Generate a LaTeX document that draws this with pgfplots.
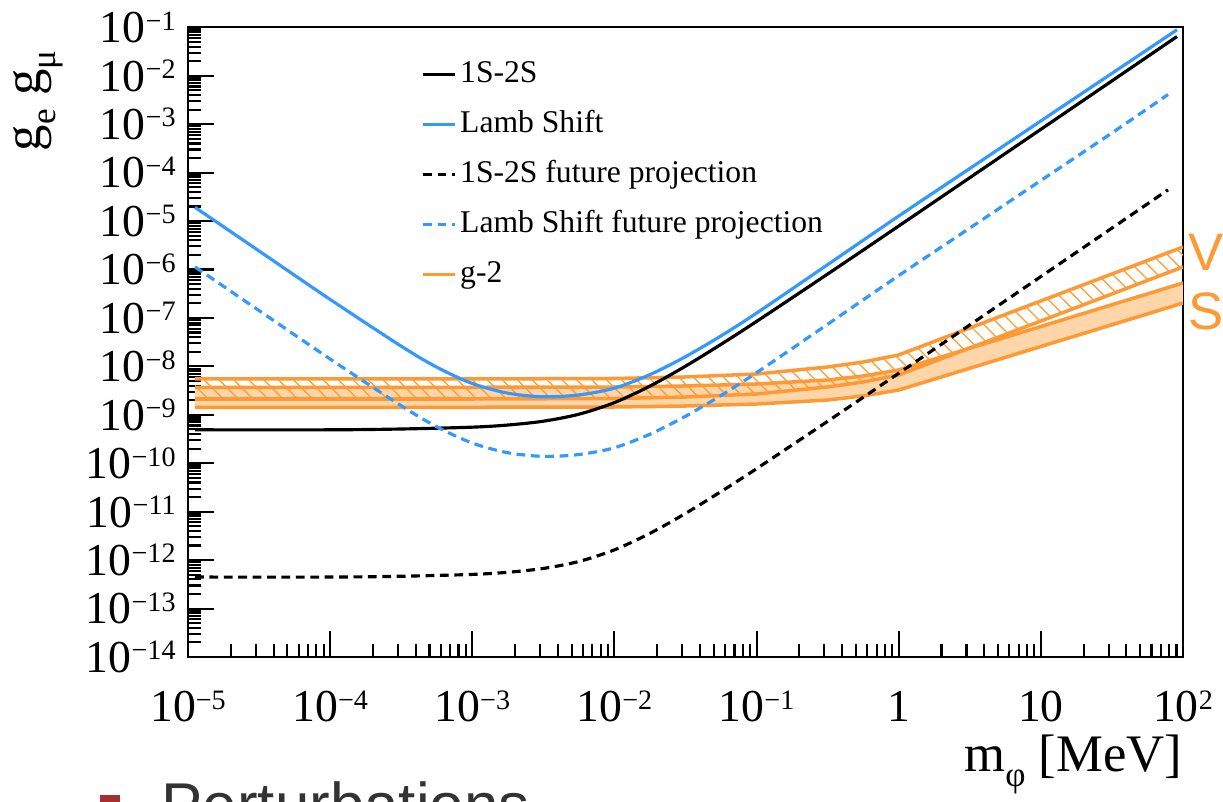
\documentclass[border=0pt]{standalone}
\usepackage{fontspec}
\setmainfont{Liberation Serif}
\newfontfamily\sansf{Liberation Sans}
\usepackage{pgfplots}
\pgfplotsset{compat=1.18}
\usepackage{pgfplotstable}
\usepgfplotslibrary{fillbetween}
\usetikzlibrary{patterns.meta}

\definecolor{rootblue}{RGB}{51,153,255}
\definecolor{rootorange}{RGB}{255,153,51}
\definecolor{lightorange}{RGB}{255,214,170}
\definecolor{bulletred}{RGB}{166,46,46}

\newcommand{\pt}[1]{\textnormal{10\raisebox{3.6pt}{\fontsize{8}{8}\selectfont #1}}}
\newcommand{\sub}[1]{\raisebox{-0.28em}{\fontsize{10}{10}\selectfont #1}}

% Lamb shift (current)
\pgfplotstableread{
x y
1.12e-5 1.923e-5
3.162e-5 2.41e-6
1e-4 2.41e-7
3.162e-4 2.612e-8
5.623e-4 9.62e-9
1e-3 4.43e-9
1.778e-3 2.80e-9
3.162e-3 2.355e-9
5.623e-3 2.570e-9
1e-2 3.548e-9
1.778e-2 6.761e-9
3.162e-2 1.585e-8
5.623e-2 4.266e-8
0.1 1.259e-7
0.3162 1.259e-6
1 1.270e-5
3.162 1.216e-4
10 1.167e-3
31.62 1.119e-2
90.8 8.91e-2
}\lambshift

% Lamb shift future projection
\pgfplotstableread{
x y
1.12e-5 1.132e-6
3.162e-5 1.419e-7
1e-4 1.419e-8
3.162e-4 1.538e-9
5.623e-4 5.664e-10
1e-3 2.608e-10
1.778e-3 1.649e-10
3.162e-3 1.387e-10
5.623e-3 1.513e-10
1e-2 2.089e-10
1.778e-2 3.981e-10
3.162e-2 9.33e-10
5.623e-2 2.512e-9
0.1 7.413e-9
0.3162 7.413e-8
1 7.48e-7
3.162 7.16e-6
10 6.87e-5
31.62 6.59e-4
78.5 4.1e-3
}\lambshiftfut

% 1S-2S (current)
\pgfplotstableread{
x y
1.12e-5 4.90e-10
1e-4 4.90e-10
3.162e-4 5.093e-10
1e-3 5.559e-10
1.778e-3 6.152e-10
3.162e-3 7.379e-10
5.623e-3 1.028e-9
1e-2 1.786e-9
1.778e-2 3.917e-9
3.162e-2 1.009e-8
5.623e-2 2.851e-8
0.1 8.472e-8
0.3162 8.054e-7
1 7.898e-6
10 7.834e-4
90.8 6.457e-2
}\onestwos

% 1S-2S future projection
\pgfplotstableread{
x y
1.12e-5 4.469e-13
1e-4 4.469e-13
3.162e-4 4.645e-13
1e-3 5.070e-13
1.778e-3 5.611e-13
3.162e-3 6.730e-13
5.623e-3 9.375e-13
1e-2 1.629e-12
1.778e-2 3.572e-12
3.162e-2 9.20e-12
5.623e-2 2.600e-11
0.1 7.726e-11
0.3162 7.345e-10
1 7.203e-9
10 7.144e-7
78.5 4.41e-5
}\onestwosfut

% g-2 bands: vector (Vu, Vl) and scalar (Su, Sl)
\pgfplotstableread{
x Vu Vl Su Sl
1.12e-5 5.49e-9 2.12e-9 3.70e-9 1.43e-9
1e-3 5.49e-9 2.12e-9 3.70e-9 1.43e-9
1e-2 5.62e-9 2.17e-9 3.75e-9 1.45e-9
3.162e-2 6.04e-9 2.33e-9 3.94e-9 1.52e-9
0.1 6.96e-9 2.69e-9 4.33e-9 1.67e-9
0.3162 9.71e-9 3.75e-9 5.23e-9 2.02e-9
0.5623 1.23e-8 4.76e-9 6.33e-9 2.45e-9
1 1.72e-8 6.64e-9 8.42e-9 3.25e-9
10 2.24e-7 8.65e-8 6.66e-8 2.57e-8
100 2.91e-6 1.13e-6 5.26e-7 2.03e-7
}\gtwo

\begin{document}
\begin{tikzpicture}
\begin{axis}[
  at={(0,0)}, anchor=south west,
  scale only axis, width=9.95cm, height=6.297cm,
  xmode=log, ymode=log,
  xmin=1e-5, xmax=1e2, ymin=1e-14, ymax=1e-1,
  axis line style={line width=0.6pt},
  tick pos=left, tick align=inside,
  major tick length=0.26cm, minor tick length=0.13cm,
  tick style={black, line width=0.6pt},
  /pgf/number format/assume math mode=true,
  xtick={1e-5,1e-4,1e-3,1e-2,1e-1,1,10,100},
  xticklabels={\pt{−5},\pt{−4},\pt{−3},\pt{−2},\pt{−1},\textnormal{1},\textnormal{10},\pt{2}},
  minor xtick={2e-5,3e-5,4e-5,5e-5,6e-5,7e-5,8e-5,9e-5,
    2e-4,3e-4,4e-4,5e-4,6e-4,7e-4,8e-4,9e-4,
    2e-3,3e-3,4e-3,5e-3,6e-3,7e-3,8e-3,9e-3,
    2e-2,3e-2,4e-2,5e-2,6e-2,7e-2,8e-2,9e-2,
    0.2,0.3,0.4,0.5,0.6,0.7,0.8,0.9,
    2,3,4,5,6,7,8,9,
    20,30,40,50,60,70,80,90},
  ytick={1e-14,1e-13,1e-12,1e-11,1e-10,1e-9,1e-8,1e-7,1e-6,1e-5,1e-4,1e-3,1e-2,1e-1},
  yticklabels={\pt{−14},\pt{−13},\pt{−12},\pt{−11},\pt{−10},\pt{−9},\pt{−8},\pt{−7},\pt{−6},\pt{−5},\pt{−4},\pt{−3},\pt{−2},\pt{−1}},
  minor ytick={2e-14,3e-14,4e-14,5e-14,6e-14,7e-14,8e-14,9e-14,
    2e-13,3e-13,4e-13,5e-13,6e-13,7e-13,8e-13,9e-13,
    2e-12,3e-12,4e-12,5e-12,6e-12,7e-12,8e-12,9e-12,
    2e-11,3e-11,4e-11,5e-11,6e-11,7e-11,8e-11,9e-11,
    2e-10,3e-10,4e-10,5e-10,6e-10,7e-10,8e-10,9e-10,
    2e-9,3e-9,4e-9,5e-9,6e-9,7e-9,8e-9,9e-9,
    2e-8,3e-8,4e-8,5e-8,6e-8,7e-8,8e-8,9e-8,
    2e-7,3e-7,4e-7,5e-7,6e-7,7e-7,8e-7,9e-7,
    2e-6,3e-6,4e-6,5e-6,6e-6,7e-6,8e-6,9e-6,
    2e-5,3e-5,4e-5,5e-5,6e-5,7e-5,8e-5,9e-5,
    2e-4,3e-4,4e-4,5e-4,6e-4,7e-4,8e-4,9e-4,
    2e-3,3e-3,4e-3,5e-3,6e-3,7e-3,8e-3,9e-3,
    2e-2,3e-2,4e-2,5e-2,6e-2,7e-2,8e-2,9e-2},
  ticklabel style={font=\rmfamily\fontsize{13}{13}\selectfont},
  xticklabel style={anchor=base, yshift=-0.65cm},
  yticklabel style={anchor=east},
  legend cell align=left,
  legend image code/.code={\draw[#1] (0cm,0cm) -- (0.32cm,0cm);},
  legend style={draw=none, fill=none, at={(0.234,0.949)}, anchor=north west,
    inner sep=0pt, row sep=0.22cm,
    font=\fontsize{9}{11}\selectfont,
    nodes={inner xsep=1pt, inner ysep=0pt, text height=0.22cm, text depth=0.06cm}},
]
% invisible boundary paths for the g-2 bands
\addplot[draw=none, name path=Su, forget plot] table[x=x, y=Su] {\gtwo};
\addplot[draw=none, name path=Sl, forget plot] table[x=x, y=Sl] {\gtwo};
\addplot[draw=none, name path=Vu, forget plot] table[x=x, y=Vu] {\gtwo};
\addplot[draw=none, name path=Vl, forget plot] table[x=x, y=Vl] {\gtwo};
\addplot[fill=lightorange, draw=none, forget plot] fill between[of=Su and Sl];
\addplot[pattern={Lines[angle=-45, distance=3pt, line width=0.35pt]}, pattern color=rootorange, draw=none, forget plot] fill between[of=Vu and Vl];
\addplot[rootorange, line width=1pt, forget plot] table[x=x, y=Su] {\gtwo};
\addplot[rootorange, line width=1pt, forget plot] table[x=x, y=Sl] {\gtwo};
\addplot[rootorange, line width=1pt, forget plot] table[x=x, y=Vu] {\gtwo};
\addplot[rootorange, line width=1pt, forget plot] table[x=x, y=Vl] {\gtwo};

\addplot[black, line width=0.9pt, smooth] table {\onestwos};
\addlegendentry{1S-2S}
\addplot[rootblue, line width=0.9pt, smooth] table {\lambshift};
\addlegendentry{Lamb Shift}
\addplot[black, line width=0.9pt, smooth, dash pattern=on 2.5pt off 1.6pt] table {\onestwosfut};
\addlegendentry{1S-2S future projection}
\addplot[rootblue, line width=0.9pt, smooth, dash pattern=on 2.5pt off 1.6pt] table {\lambshiftfut};
\addlegendentry{Lamb Shift future projection}
\addlegendimage{rootorange, line width=0.9pt}
\addlegendentry{g-2}
\end{axis}

\node[rotate=90, anchor=east, inner sep=0pt, font=\fontsize{15}{15}\selectfont] at (-1.50,6.07) {g\sub{e} g\sub{μ}};
\node[anchor=base east, inner sep=0pt, font=\fontsize{15}{15}\selectfont] at (9.95,-1.15) {m\sub{φ} [MeV]};
\node[text=rootorange, inner sep=0pt, font=\sansf\fontsize{15}{15}\selectfont] at (10.18,4.05) {V};
\node[text=rootorange, inner sep=0pt, font=\sansf\fontsize{15}{15}\selectfont] at (10.18,3.46) {S};
\fill[bulletred] (-0.88,-1.38) rectangle (-0.68,-1.60);
\node[anchor=base west, inner sep=0pt, text=black!80, font=\sansf\fontsize{17.6}{18}\selectfont] at (-0.27,-1.70) {Perturbations};

\pgfresetboundingbox
\path[use as bounding box] (-1.88,-1.45) rectangle (10.35,6.57);
\end{tikzpicture}
\end{document}
